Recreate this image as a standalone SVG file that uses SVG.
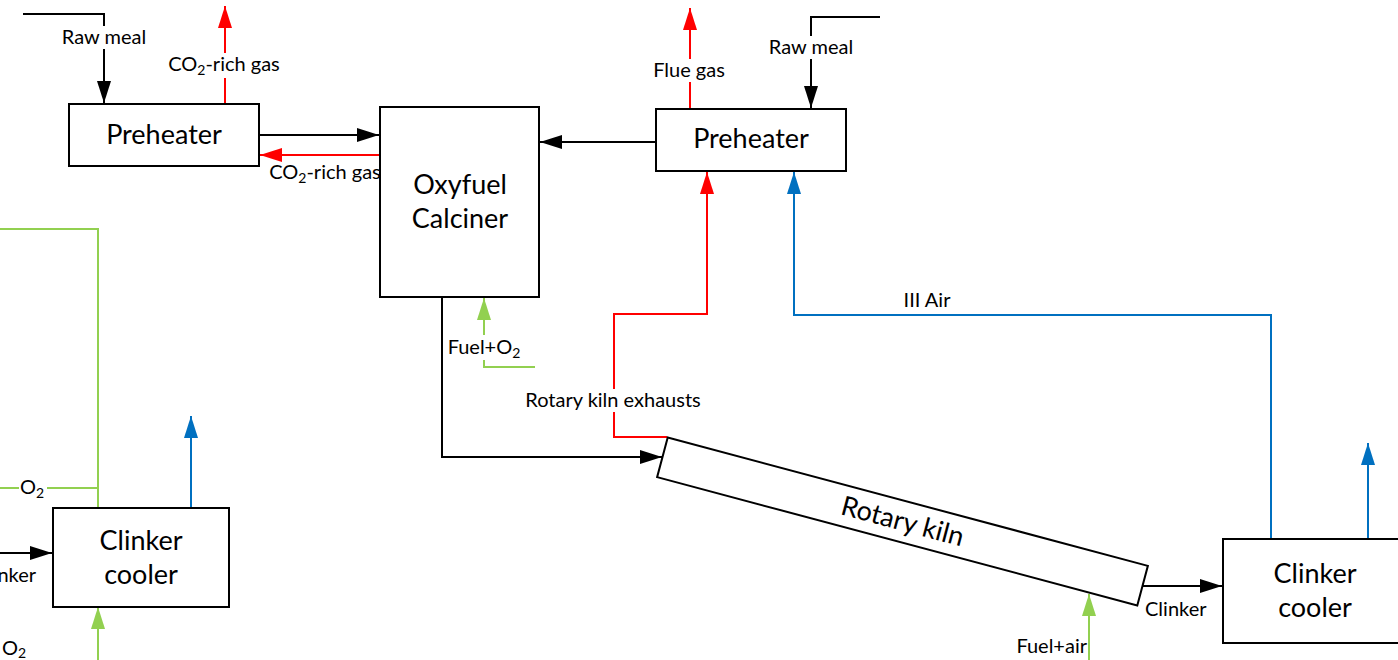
<svg xmlns="http://www.w3.org/2000/svg" width="1398" height="660" viewBox="0 0 1398 660">
  <style>
    .box { fill: #ffffff; stroke: #000000; stroke-width: 2; }
    .node-text { font-family: Lato, "Liberation Sans", sans-serif; font-size: 27px; fill: #000000; text-anchor: middle; }
    .lbl { font-family: Lato, "Liberation Sans", sans-serif; font-size: 20px; fill: #000000; }
    .mid { text-anchor: middle; }
    .end { text-anchor: end; }
    .bg { fill: #ffffff; stroke: none; }
    .c { fill: none; stroke-width: 2; }
    .k { stroke: #000000; }
    .r { stroke: #ff0000; }
    .b { stroke: #0070c0; }
    .g { stroke: #92d050; }
  </style>
  <defs>
    <marker id="ah-k" markerUnits="userSpaceOnUse" markerWidth="22" markerHeight="14" refX="22" refY="7" orient="auto"><path d="M0,0 L22,7 L0,14 z" fill="#000000"/></marker>
    <marker id="ah-r" markerUnits="userSpaceOnUse" markerWidth="22" markerHeight="14" refX="22" refY="7" orient="auto"><path d="M0,0 L22,7 L0,14 z" fill="#ff0000"/></marker>
    <marker id="ah-b" markerUnits="userSpaceOnUse" markerWidth="22" markerHeight="14" refX="22" refY="7" orient="auto"><path d="M0,0 L22,7 L0,14 z" fill="#0070c0"/></marker>
    <marker id="ah-g" markerUnits="userSpaceOnUse" markerWidth="22" markerHeight="14" refX="22" refY="7" orient="auto"><path d="M0,0 L22,7 L0,14 z" fill="#92d050"/></marker>
  </defs>

  <!-- flow lines -->
  <g id="connectors">
    <path class="c k" d="M23,14 H104 V103" marker-end="url(#ah-k)"/>
    <path class="c r" d="M225,104 V6" marker-end="url(#ah-r)"/>
    <path class="c k" d="M259,135 H379" marker-end="url(#ah-k)"/>
    <path class="c r" d="M380,155 H260" marker-end="url(#ah-r)"/>
    <path class="c k" d="M656,142 H540" marker-end="url(#ah-k)"/>
    <path class="c r" d="M690,109 V8" marker-end="url(#ah-r)"/>
    <path class="c k" d="M880,17 H811 V108" marker-end="url(#ah-k)"/>
    <path class="c r" d="M667,437 H614 V314 H707 V172" marker-end="url(#ah-r)"/>
    <path class="c b" d="M1271,539 V315 H794 V172" marker-end="url(#ah-b)"/>
    <path class="c k" d="M442,297 V457 H662" marker-end="url(#ah-k)"/>
    <path class="c g" d="M535,367 H484 V298" marker-end="url(#ah-g)"/>
    <path class="c k" d="M1142,586 H1222" marker-end="url(#ah-k)"/>
    <path class="c g" d="M1089,660 V594" marker-end="url(#ah-g)"/>
    <path class="c b" d="M1368,539 V443" marker-end="url(#ah-b)"/>
    <path class="c b" d="M191,508 V416" marker-end="url(#ah-b)"/>
    <path class="c g" d="M0,229 H98 V508"/>
    <path class="c g" d="M0,488 H98"/>
    <path class="c g" d="M98,660 V607" marker-end="url(#ah-g)"/>
    <path class="c k" d="M0,553 H52" marker-end="url(#ah-k)"/>
  </g>

  <!-- stream labels -->
  <g id="labels">
    <rect class="bg" x="56" y="26" width="96" height="23"/>
    <text class="lbl mid" x="104" y="44">Raw meal</text>
    <rect class="bg" x="166" y="53" width="118" height="25"/>
    <text class="lbl mid" x="224" y="71">CO<tspan font-size="14" dy="4">2</tspan><tspan dy="-4">-rich gas</tspan></text>
    <text class="lbl mid" x="325" y="179">CO<tspan font-size="14" dy="4">2</tspan><tspan dy="-4">-rich gas</tspan></text>
    <rect class="bg" x="648" y="59" width="84" height="23"/>
    <text class="lbl mid" x="689" y="77">Flue gas</text>
    <rect class="bg" x="763" y="36" width="96" height="23"/>
    <text class="lbl mid" x="811" y="54">Raw meal</text>
    <rect class="bg" x="522" y="389" width="184" height="23"/>
    <text class="lbl mid" x="613" y="407">Rotary kiln exhausts</text>
    <text class="lbl mid" x="927" y="307">III Air</text>
    <rect class="bg" x="444" y="335" width="80" height="25"/>
    <text class="lbl mid" x="484" y="354">Fuel+O<tspan font-size="14" dy="4">2</tspan></text>
    <text class="lbl" x="1145" y="616">Clinker</text>
    <text class="lbl end" x="1087" y="653">Fuel+air</text>
    <rect class="bg" x="19" y="477" width="28" height="23"/>
    <text class="lbl mid" x="32" y="494">O<tspan font-size="14" dy="4">2</tspan></text>
    <text class="lbl mid" x="14" y="655">O<tspan font-size="14" dy="3">2</tspan></text>
    <text class="lbl end" x="36" y="582">Clinker</text>
  </g>

  <g id="preheater-oxy">
    <rect class="box" x="69" y="104" width="190" height="62"/>
    <text class="node-text" x="164" y="144">Preheater</text>
  </g>

  <g id="calciner">
    <rect class="box" x="380" y="107" width="159" height="190"/>
    <text class="node-text" x="460" y="194">Oxyfuel</text>
    <text class="node-text" x="460" y="228">Calciner</text>
  </g>

  <g id="preheater-air">
    <rect class="box" x="656" y="109" width="190" height="62"/>
    <text class="node-text" x="751" y="148">Preheater</text>
  </g>

  <g id="rotary-kiln">
    <g transform="translate(902.5,521.5) rotate(14.96)">
      <rect class="box" x="-248.5" y="-20.5" width="497" height="41"/>
      <text class="node-text" x="0" y="9">Rotary kiln</text>
    </g>
  </g>

  <g id="clinker-cooler-left">
    <rect class="box" x="53" y="508" width="176" height="99"/>
    <text class="node-text" x="141" y="550">Clinker</text>
    <text class="node-text" x="141" y="584">cooler</text>
  </g>

  <g id="clinker-cooler-right">
    <rect class="box" x="1223" y="539" width="180" height="104"/>
    <text class="node-text" x="1315" y="583">Clinker</text>
    <text class="node-text" x="1315" y="617">cooler</text>
  </g>
</svg>
